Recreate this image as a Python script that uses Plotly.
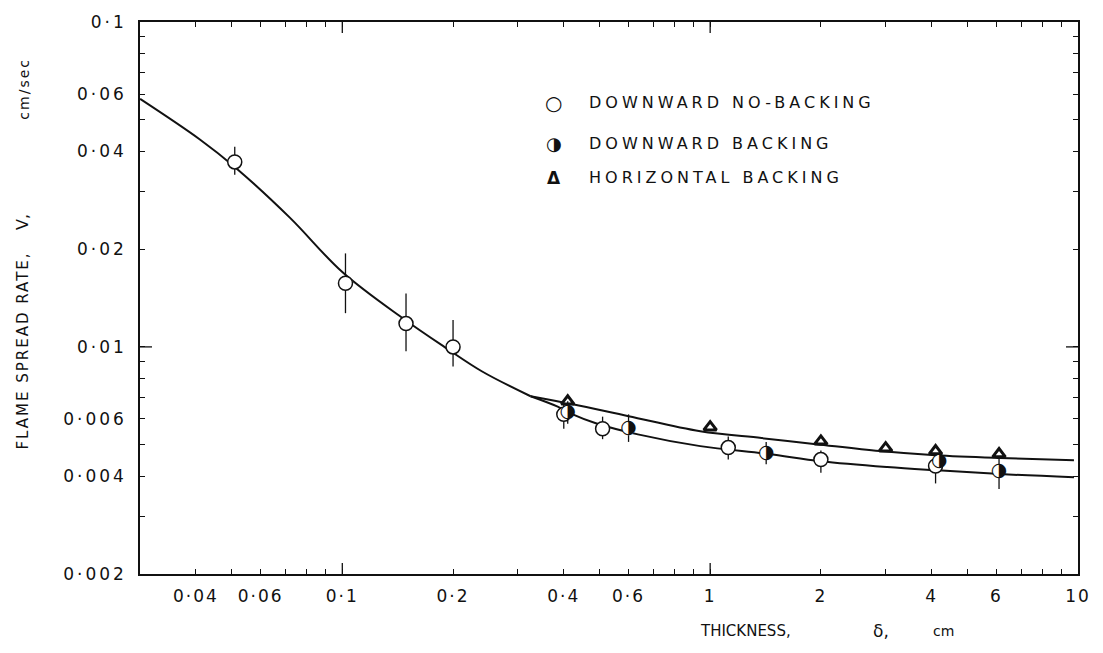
import math
import plotly.graph_objects as go

# ---- measured flame spread rates (cm/sec) vs. sample thickness (cm) ----
no_back_x = [0.051, 0.102, 0.149, 0.2, 0.4, 0.51, 1.12, 2.0, 4.1]
no_back_v = [0.0371, 0.0157, 0.0118, 0.0100, 0.0062, 0.0056, 0.0049, 0.0045, 0.0043]
no_back_err_hi = [0.0042, 0.0037, 0.0028, 0.0021, 0.0005, 0.0005, 0.0004, 0.0003, 0.0004]
no_back_err_lo = [0.0032, 0.0030, 0.0021, 0.0013, 0.0006, 0.0004, 0.0004, 0.0004, 0.0005]

back_x = [0.41, 0.6, 1.42, 4.2, 6.1]
back_v = [0.0063, 0.0056, 0.0047, 0.00445, 0.00415]
back_err_hi = [0.0005, 0.0006, 0.0004, 0.0, 0.0004]
back_err_lo = [0.0005, 0.0005, 0.00035, 0.0, 0.0005]

horiz_x = [0.41, 1.0, 2.0, 3.0, 4.1, 6.1]
horiz_v = [0.0068, 0.00566, 0.00512, 0.00488, 0.00478, 0.00468]

# ---- hand-faired curves through the data ----
fit_common_x = [0.0282, 0.041, 0.051, 0.072, 0.1, 0.146, 0.192, 0.24, 0.325]
fit_common_v = [0.058, 0.0435, 0.0358, 0.0250, 0.0170, 0.01225, 0.0099, 0.0084, 0.00705]
fit_horiz_x = [0.325, 0.423, 0.6, 0.94, 1.38, 1.94, 2.89, 4.1, 6.15, 9.75]
fit_horiz_v = [0.00705, 0.00666, 0.00612, 0.0055, 0.00524, 0.00502, 0.00478, 0.00464, 0.00455, 0.00448]
fit_down_x = [0.325, 0.385, 0.423, 0.489, 0.636, 0.94, 1.44, 2.0, 3.03, 4.15, 6.15, 9.75]
fit_down_v = [0.00705, 0.00655, 0.0062, 0.00582, 0.00538, 0.00495, 0.00468, 0.00445, 0.00427, 0.00417, 0.00406, 0.00397]

# ---- axis ticks ----
x_ticks = [0.04, 0.05, 0.06, 0.07, 0.08, 0.09, 0.1, 0.2, 0.3, 0.4, 0.5, 0.6, 0.7, 0.8, 0.9,
           1, 2, 3, 4, 5, 6, 7, 8, 9, 10]
x_labels = {0.04: "0·04", 0.06: "0·06", 0.1: "0·1", 0.2: "0·2", 0.4: "0·4", 0.6: "0·6",
            1: "1", 2: "2", 4: "4", 6: "6", 10: "10"}
y_ticks = [0.002, 0.003, 0.004, 0.005, 0.006, 0.007, 0.008, 0.009, 0.01,
           0.02, 0.03, 0.04, 0.05, 0.06, 0.07, 0.08, 0.09, 0.1]
y_labels = {0.002: "0·002", 0.004: "0·004", 0.006: "0·006", 0.01: "0·01",
            0.02: "0·02", 0.04: "0·04", 0.06: "0·06", 0.1: "0·1"}
x_long_ticks = [0.1, 1]
y_long_ticks = [0.01]

legend_entries = ["DOWNWARD NO-BACKING", "DOWNWARD BACKING", "HORIZONTAL BACKING"]
legend_glyphs = ["○", "◑", "<b>Δ</b>"]

INK = "#111111"
FONT = "DejaVu Sans"


def spaced(text, px):
    return f"<span style='letter-spacing:{px}px'>{text}</span>" if text else ""


fig = go.Figure()

line_style = dict(color=INK, width=2, shape="spline", smoothing=1.0)
for xs, vs in [(fit_common_x, fit_common_v), (fit_horiz_x, fit_horiz_v), (fit_down_x, fit_down_v)]:
    fig.add_trace(go.Scatter(x=xs, y=vs, mode="lines", line=line_style,
                             hoverinfo="skip", showlegend=False))

# horizontal, backed samples
fig.add_trace(go.Scatter(
    x=horiz_x, y=horiz_v, mode="markers", showlegend=False,
    marker=dict(symbol="triangle-up", size=11, color="white", line=dict(color=INK, width=3)),
))

# open circles with scatter bars
fig.add_trace(go.Scatter(
    x=no_back_x, y=no_back_v, mode="markers", showlegend=False,
    marker=dict(symbol="circle", size=14, color="white", line=dict(color=INK, width=1.5)),
    error_y=dict(type="data", symmetric=False, array=no_back_err_hi,
                 arrayminus=no_back_err_lo, width=0, thickness=1.3, color=INK),
))

# half-filled circles
fig.add_trace(go.Scatter(
    x=back_x, y=back_v, mode="markers+text", showlegend=False,
    marker=dict(symbol="circle", size=13, color="white", line=dict(width=0)),
    error_y=dict(type="data", symmetric=False, array=back_err_hi,
                 arrayminus=back_err_lo, width=0, thickness=1.3, color=INK),
    text=["◑"] * len(back_x), textposition="middle center",
    textfont=dict(family=FONT, size=19, color=INK),
))

axis_common = dict(
    type="log", showgrid=False, zeroline=False, showline=True, linecolor=INK,
    linewidth=1.5, mirror="ticks", ticks="inside", ticklen=5, tickwidth=1.2,
    tickcolor=INK, tickfont=dict(family=FONT, size=17, color=INK),
)
fig.update_xaxes(
    **axis_common, range=[-1.55, 1.0], tickmode="array", tickvals=x_ticks,
    ticktext=[spaced(x_labels.get(v, ""), 2) for v in x_ticks], ticklabelstandoff=6,
)
fig.update_yaxes(
    **axis_common, range=[math.log10(0.002), -1], tickmode="array", tickvals=y_ticks,
    ticktext=[spaced(y_labels.get(v, ""), 3) for v in y_ticks], ticklabelstandoff=8,
)

shapes = []
for v in x_long_ticks:
    shapes.append(dict(type="line", xref="x", yref="paper", ysizemode="pixel", yanchor=0,
                       x0=v, x1=v, y0=0, y1=11, line=dict(color=INK, width=1.3)))
    shapes.append(dict(type="line", xref="x", yref="paper", ysizemode="pixel", yanchor=1,
                       x0=v, x1=v, y0=0, y1=-11, line=dict(color=INK, width=1.3)))
for v in y_long_ticks:
    shapes.append(dict(type="line", xref="paper", yref="y", xsizemode="pixel", xanchor=0,
                       x0=0, x1=12, y0=v, y1=v, line=dict(color=INK, width=1.3)))
    shapes.append(dict(type="line", xref="paper", yref="y", xsizemode="pixel", xanchor=1,
                       x0=0, x1=-12, y0=v, y1=v, line=dict(color=INK, width=1.3)))

annotations = []
legend_rows = [0.8535, 0.7794, 0.7179]
glyph_sizes = [20, 18, 17]
for name, glyph, gy, gs in zip(legend_entries, legend_glyphs, legend_rows, glyph_sizes):
    annotations.append(dict(xref="paper", yref="paper", x=0.441, y=gy, text=glyph,
                            showarrow=False, xanchor="center", yanchor="middle",
                            font=dict(family=FONT, size=gs, color=INK)))
    annotations.append(dict(xref="paper", yref="paper", x=0.4767, y=gy,
                            text=spaced(name, 4), showarrow=False,
                            xanchor="left", yanchor="middle",
                            font=dict(family=FONT, size=16, color=INK)))

# axis titles, each word group placed on its own
y_title_parts = [("FLAME SPREAD RATE,", 0.405, 15, 2), ("V,", 0.638, 16, 0),
                 ("cm/sec", 0.8795, 14, 2)]
for txt, ypos, size, ls in y_title_parts:
    annotations.append(dict(xref="paper", yref="paper", x=-0.1246, y=ypos, textangle=-90,
                            text=spaced(txt, ls) if ls else txt, showarrow=False,
                            xanchor="center", yanchor="middle",
                            font=dict(family=FONT, size=size, color=INK)))
x_title_parts = [("THICKNESS,", 0.645, 15), ("δ,", 0.79, 17), ("cm", 0.857, 14)]
for txt, xpos, size in x_title_parts:
    annotations.append(dict(xref="paper", yref="paper", x=xpos, y=-0.1025, text=txt,
                            showarrow=False, xanchor="center", yanchor="middle",
                            font=dict(family=FONT, size=size, color=INK)))

fig.update_layout(
    width=1103, height=653,
    margin=dict(l=140, r=16, t=18, b=79),
    paper_bgcolor="white", plot_bgcolor="white",
    shapes=shapes, annotations=annotations, showlegend=False,
)

fig.write_html("out.html")
